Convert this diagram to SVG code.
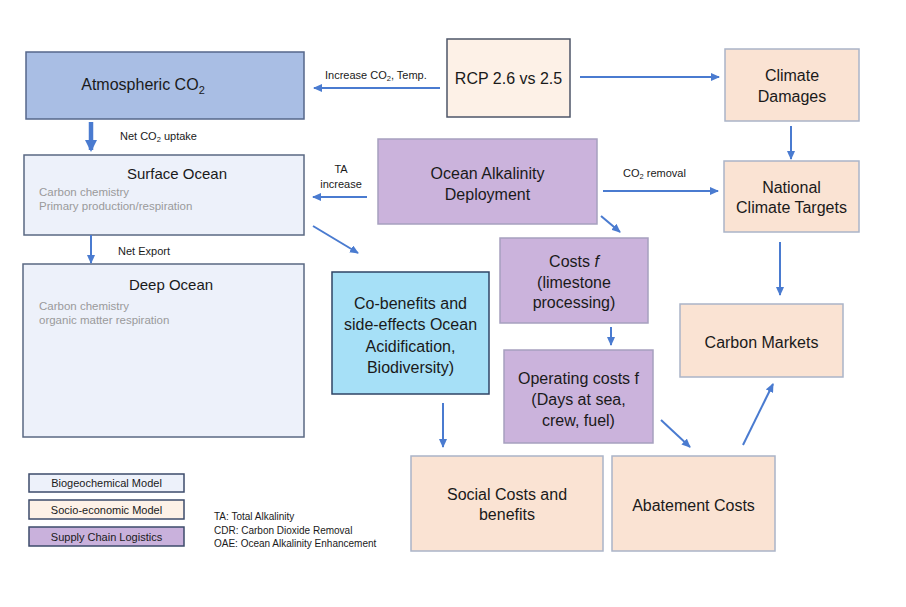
<svg xmlns="http://www.w3.org/2000/svg" width="906" height="607" viewBox="0 0 906 607">
<defs>
<marker id="ah" markerUnits="userSpaceOnUse" markerWidth="9" markerHeight="8" refX="8" refY="4" orient="auto">
<path d="M0,0 L9,4 L0,8 Z" fill="#4a7bd0"/>
</marker>
<marker id="ahb" markerUnits="userSpaceOnUse" markerWidth="12" markerHeight="12" refX="10" refY="6" orient="auto">
<path d="M0,0 L12,6 L0,12 Z" fill="#4a7bd0"/>
</marker>
<style>
text{font-family:"Liberation Sans",Arial,sans-serif;fill:#1a1a1a}
.t16{font-size:16px;text-anchor:middle}
.t15{font-size:15px;text-anchor:middle}
.lbl{font-size:11px}
.sub{font-size:11.5px;fill:#9a9a9a}
.leg{font-size:11px;text-anchor:middle}
.abbr{font-size:10px}
.atm{fill:#a9bee4;stroke:#56678a;stroke-width:1.5}
.bio{fill:#edf1fa;stroke:#5a6883;stroke-width:1.5}
.rcp{fill:#fdf1e7;stroke:#4d5568;stroke-width:1.5}
.soc{fill:#fae3d3;stroke:#aab4c8;stroke-width:1.5}
.sup{fill:#cbb3dc;stroke:#a6a0bf;stroke-width:1.5}
.cob{fill:#a6e0f7;stroke:#2f4466;stroke-width:1.5}
.lb1{fill:#edf1fa;stroke:#3d4b6b;stroke-width:1.5}
.lb2{fill:#fdf1e7;stroke:#3d4b6b;stroke-width:1.5}
.lb3{fill:#c9b1dc;stroke:#3d4b6b;stroke-width:1.5}
.con{stroke:#4a7bd0;stroke-width:2;fill:none;marker-end:url(#ah)}
.thick{stroke:#4a7bd0;stroke-width:4.5;fill:none;marker-end:url(#ahb)}
</style>
</defs>
<rect width="906" height="607" fill="#ffffff"/>

<g id="atmospheric">
<rect class="atm" x="26" y="52" width="278" height="67"/>
<text class="t16" x="143" y="90">Atmospheric CO<tspan font-size="11" dy="4">2</tspan></text>
</g>
<g id="surface">
<rect class="bio" x="24" y="155" width="280" height="80"/>
<text class="t15" x="177" y="179">Surface Ocean</text>
<text class="sub" x="39" y="196">Carbon chemistry</text>
<text class="sub" x="39" y="210">Primary production/respiration</text>
</g>
<g id="deep">
<rect class="bio" x="23" y="264" width="281" height="173"/>
<text class="t15" x="171" y="290">Deep Ocean</text>
<text class="sub" x="39" y="310">Carbon chemistry</text>
<text class="sub" x="39" y="324">organic matter respiration</text>
</g>
<g id="rcp">
<rect class="rcp" x="447" y="39" width="123" height="78"/>
<text class="t16" x="508.5" y="84">RCP 2.6 vs 2.5</text>
</g>
<g id="climate-damages">
<rect class="soc" x="725" y="49" width="134" height="72"/>
<text class="t16" x="792" y="81">Climate</text>
<text class="t16" x="792" y="102">Damages</text>
</g>
<g id="oad">
<rect class="sup" x="378" y="139" width="219" height="85"/>
<text class="t16" x="487.5" y="179">Ocean Alkalinity</text>
<text class="t16" x="487.5" y="200">Deployment</text>
</g>
<g id="nct">
<rect class="soc" x="724" y="161" width="135" height="71"/>
<text class="t16" x="791.5" y="193">National</text>
<text class="t16" x="791.5" y="213">Climate Targets</text>
</g>
<g id="costs">
<rect class="sup" x="500" y="238" width="148" height="85"/>
<text class="t16" x="574" y="267">Costs <tspan font-style="italic">f</tspan></text>
<text class="t16" x="574" y="288">(limestone</text>
<text class="t16" x="574" y="308">processing)</text>
</g>
<g id="cobenefits">
<rect class="cob" x="332" y="272" width="157" height="122"/>
<text class="t16" x="410.5" y="309">Co-benefits and</text>
<text class="t16" x="410.5" y="330">side-effects Ocean</text>
<text class="t16" x="410.5" y="352">Acidification,</text>
<text class="t16" x="410.5" y="373">Biodiversity)</text>
</g>
<g id="operating">
<rect class="sup" x="504" y="350" width="149" height="93"/>
<text class="t16" x="578.5" y="384">Operating costs f</text>
<text class="t16" x="578.5" y="405">(Days at sea,</text>
<text class="t16" x="578.5" y="426">crew, fuel)</text>
</g>
<g id="carbon-markets">
<rect class="soc" x="680" y="304" width="163" height="73"/>
<text class="t16" x="761.5" y="348">Carbon Markets</text>
</g>
<g id="social">
<rect class="soc" x="411" y="456" width="192" height="95"/>
<text class="t16" x="507" y="500">Social Costs and</text>
<text class="t16" x="507" y="520">benefits</text>
</g>
<g id="abatement">
<rect class="soc" x="612" y="456" width="163" height="95"/>
<text class="t16" x="693.5" y="511">Abatement Costs</text>
</g>

<g id="connectors">
<line class="con" x1="440" y1="88" x2="314" y2="88"/>
<line class="con" x1="580" y1="77" x2="719" y2="77"/>
<line class="con" x1="791" y1="126" x2="791" y2="159"/>
<line class="con" x1="603" y1="191" x2="718" y2="191"/>
<line class="con" x1="367" y1="197" x2="313" y2="197"/>
<line class="con" x1="601" y1="216" x2="620" y2="232"/>
<line class="con" x1="313" y1="226" x2="358" y2="253"/>
<line class="thick" x1="91" y1="122" x2="91" y2="150"/>
<line class="con" x1="91" y1="235" x2="91" y2="263"/>
<line class="con" x1="611" y1="327" x2="611" y2="345"/>
<line class="con" x1="780" y1="242" x2="780" y2="295"/>
<line class="con" x1="443" y1="403" x2="443" y2="447"/>
<line class="con" x1="661" y1="420" x2="690" y2="447"/>
<line class="con" x1="743" y1="445" x2="773" y2="384"/>
<text class="lbl" x="325" y="79">Increase CO<tspan font-size="7.5" dy="2">2</tspan><tspan dy="-2">, Temp.</tspan></text>
<text class="lbl" x="120" y="140">Net CO<tspan font-size="7.5" dy="2">2</tspan><tspan dy="-2"> uptake</tspan></text>
<text class="lbl" x="118" y="255">Net Export</text>
<text class="lbl" x="341" y="173" text-anchor="middle">TA</text>
<text class="lbl" x="341" y="188" text-anchor="middle">increase</text>
<text class="lbl" x="623" y="177">CO<tspan font-size="7.5" dy="2">2</tspan><tspan dy="-2"> removal</tspan></text>
</g>

<g id="legend">
<rect class="lb1" x="29" y="474" width="155" height="18"/>
<text class="leg" x="106.5" y="487">Biogeochemical Model</text>
<rect class="lb2" x="29" y="500" width="155" height="19"/>
<text class="leg" x="106.5" y="513.5">Socio-economic Model</text>
<rect class="lb3" x="29" y="527" width="155" height="19"/>
<text class="leg" x="106.5" y="540.5">Supply Chain Logistics</text>
<text class="abbr" x="214" y="519.5">TA: Total Alkalinity</text>
<text class="abbr" x="214" y="533.5">CDR: Carbon Dioxide Removal</text>
<text class="abbr" x="214" y="547">OAE: Ocean Alkalinity Enhancement</text>
</g>
</svg>
